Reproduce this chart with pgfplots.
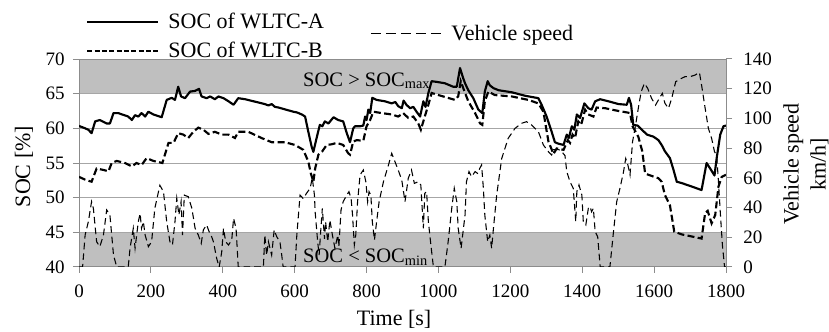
\documentclass[border=0pt]{standalone}
\usepackage{pgfplots}
\pgfplotsset{compat=1.18}
\usepackage{pgfplotstable}
\usepackage{fontspec}
\setmainfont{Liberation Serif}
\definecolor{bandgray}{HTML}{BFBFBF}
\definecolor{gridgray}{HTML}{A6A6A6}
\definecolor{axisgray}{HTML}{8C8C8C}

\pgfplotstableread{
t soc
0 60.35
17 60.0
26 59.8
35 59.3
45 61.0
58 61.2
77 60.7
86 60.7
96 62.2
109 62.2
137 61.7
147 61.2
156 61.9
165 61.7
174 62.2
184 61.7
193 62.4
207 62.0
230 61.6
244 64.1
258 64.4
267 64.1
276 66.0
284 64.6
295 64.35
309 65.3
323 65.4
334 65.7
341 64.6
355 64.35
365 64.6
378 64.2
388 64.6
402 64.35
416 63.9
430 63.4
443 64.35
462 64.2
517 63.5
527 63.3
536 63.5
545 63.1
555 63.0
596 62.4
606 62.3
620 62.0
629 61.7
638 59.5
647 57.4
652 56.6
661 58.6
670 60.5
677 60.3
684 61.0
694 60.7
708 61.6
721 61.2
735 61.0
745 59.3
754 58.0
763 60.0
768 60.3
782 60.3
791 60.4
796 61.7
800 61.2
805 62.7
810 62.2
816 64.4
828 64.1
851 63.9
870 63.6
880 63.8
888 63.2
898 62.9
903 64.0
911 63.4
921 62.9
930 63.1
939 62.4
949 61.7
958 63.9
964 63.1
972 65.1
981 66.8
995 66.7
1018 66.5
1041 66.0
1051 66.0
1060 68.7
1069 67.2
1074 66.5
1083 65.5
1097 64.35
1111 62.7
1122 62.2
1129 65.3
1137 66.8
1143 66.2
1153 65.8
1167 65.5
1204 65.2
1241 64.7
1278 64.35
1287 63.4
1301 61.7
1315 59.5
1324 58.0
1333 57.8
1348 57.6
1357 59.1
1363 58.6
1371 60.3
1378 59.8
1385 62.0
1394 61.5
1406 63.6
1417 62.9
1426 62.7
1436 63.9
1450 64.2
1473 63.9
1501 63.5
1524 63.4
1530 64.4
1536 63.4
1542 60.5
1554 60.4
1566 59.8
1580 59.1
1598 58.8
1612 58.3
1621 57.6
1630 56.7
1644 55.7
1654 54.0
1663 52.3
1677 52.1
1705 51.6
1732 51.1
1746 55.0
1756 54.2
1768 53.2
1774 55.7
1784 59.1
1793 60.3
1800 60.4
}\socA

\pgfplotstableread{
t soc
0 53.0
17 52.6
35 52.3
49 54.2
68 54.0
82 53.8
91 55.0
105 55.3
128 55.0
147 54.5
160 55.0
174 54.7
188 55.7
207 55.3
232 55.0
249 57.9
263 57.9
276 59.3
290 59.1
304 58.6
318 59.5
332 60.1
346 59.8
360 59.2
378 59.5
397 59.1
416 59.1
434 58.6
443 59.5
471 59.5
508 58.6
536 58.0
573 58.0
601 57.6
624 56.9
638 55.2
645 53.5
652 52.3
657 54.2
666 56.2
677 56.7
689 57.6
703 57.7
717 57.9
735 57.6
749 56.4
754 56.2
763 58.1
773 58.3
791 58.2
800 60.3
810 61.2
819 62.4
842 62.2
870 62.0
888 61.7
902 62.2
916 61.5
930 61.7
944 60.7
951 59.8
962 61.7
972 63.4
981 65.1
1000 64.8
1046 64.1
1055 64.6
1062 66.8
1069 65.8
1083 63.9
1102 62.2
1116 60.7
1122 60.5
1129 63.9
1139 65.3
1157 64.8
1204 64.6
1250 64.1
1278 63.6
1292 62.4
1306 58.1
1320 56.3
1329 57.1
1348 56.9
1360 58.3
1366 57.9
1373 59.1
1380 58.6
1389 61.0
1397 60.5
1408 62.7
1417 62.0
1431 61.7
1440 63.0
1464 62.9
1501 62.5
1524 62.3
1533 62.2
1540 60.3
1556 58.8
1567 56.7
1575 53.5
1584 53.3
1612 52.8
1621 52.3
1630 50.4
1644 48.9
1656 45.1
1677 44.7
1705 44.4
1732 44.1
1742 47.8
1749 48.1
1760 46.3
1770 47.5
1779 51.6
1788 53.0
1800 53.3
}\socB

\pgfplotstableread{
t v
0 0
10 0
17 21.5
26 30.5
35 44
40 39.5
49 17
58 13.7
68 21.5
77 38.4
86 35
96 8
105 0
137 0
142 12.6
151 26
156 12.6
165 30.5
170 36
174 26
179 30.5
184 21.5
193 13.7
202 17
211 39.5
225 55
235 50.7
244 30.5
253 17
260 14.8
267 30.5
272 46.2
278 35
284 44
288 21.5
293 48.4
304 47.3
314 39.5
323 26
332 21.5
340 15.9
346 25
355 28.3
362 23.8
369 20.4
374 17
383 5.8
390 0
397 10
402 26
408 17
416 14.8
425 18.2
430 32.7
437 26
443 0
513 0
517 21.5
522 8
527 17
536 8
543 25
550 20.4
559 17
564 8
568 0
601 0
606 21.5
615 48.4
624 46
633 49.6
643 53
649 60
655 48.4
657 37
664 17
668 8
673 26
677 39.5
683 19
686 30.5
692 17
698 31.6
705 21.5
712 12.6
720 21.5
723 13.7
729 38.4
735 44
745 48.4
751 50.7
757 46.2
761 35
766 14.8
770 21.5
775 44
782 62
791 65.3
798 57.4
803 44
807 50.7
812 48.4
816 30.5
822 18.2
828 30.5
835 44
847 57.4
861 68.7
870 76.5
879 70.9
888 65.3
898 58.5
907 44
916 59.7
925 65.3
933 56.3
944 57.4
951 55.2
958 26
962 49.6
967 50.7
972 30.5
979 14.8
986 0
1018 0
1027 17
1037 39.5
1044 53
1051 44
1055 26
1063 12.6
1074 35
1078 57.4
1085 64.2
1092 60.8
1102 64.2
1109 63
1115 66.4
1120 68.7
1125 53
1129 35
1137 17
1143 21.5
1148 12.6
1153 26
1162 48.4
1176 73
1194 86.6
1213 93.3
1231 96.7
1245 97.8
1259 95.6
1278 91.1
1292 82.1
1306 77.6
1315 75.4
1320 79
1335 79
1343 77.6
1352 75
1357 64.2
1366 57.4
1375 53
1382 30.5
1385 50.7
1391 55.2
1399 48.4
1403 30.5
1410 28.3
1417 39.5
1422 40.6
1426 37.2
1431 39.5
1436 23.8
1443 20.4
1450 0
1477 0
1487 23.8
1496 44
1505 53
1515 64.2
1521 73
1527 68.7
1533 62
1540 84.4
1547 93.3
1556 106.8
1564 118
1573 123.6
1582 120.3
1593 113.5
1604 109
1617 114.6
1623 116.9
1630 110.2
1640 106.8
1649 113.5
1660 124.7
1672 126.5
1686 128.1
1700 128.1
1714 129.2
1726 131
1732 122.5
1742 106.8
1751 93.3
1760 86.6
1768 77.6
1774 75.4
1779 57.4
1784 37.2
1790 14.8
1796 0
1800 0
}\speed

\newcommand{\tickfont}{\fontsize{14.25}{17}\selectfont}
\newcommand{\labfont}{\fontsize{16.5}{20.25}\selectfont}

\begin{document}
\begin{tikzpicture}
\begin{axis}[
  set layers,
  at={(0,0)}, anchor=south west,
  scale only axis, width=485.25pt, height=156pt,
  xmin=0, xmax=1800, ymin=40, ymax=70,
  xtick={0,200,...,1800}, ytick={40,45,...,70},
  xtick pos=bottom, ytick pos=left,
  tick align=outside, major tick length=4.5pt,
  every tick/.style={axisgray, line width=0.75pt},
  axis line style={axisgray, line width=0.75pt},
  ymajorgrids, grid style={gridgray, line width=0.75pt},
  /pgf/number format/assume math mode=true,
  /pgf/number format/1000 sep={},
  ticklabel style={font=\tickfont},
  xticklabel style={inner sep=0pt, yshift=-9pt},
  yticklabel style={inner sep=0pt, xshift=-6pt},
  xlabel={Time [s]},
  xlabel style={font=\labfont, at={(axis description cs:0.487,-0.279)}, anchor=base},
  ylabel={SOC [\%]},
  ylabel style={font=\labfont, at={(axis description cs:-0.085,0.483)}, anchor=center},
  legend style={at={(axis description cs:0.0108,1.236)}, anchor=north west, draw=none, fill=none,
    inner sep=0pt, font=\labfont, row sep=5pt, cells={anchor=west}},
  legend image code/.code={\draw[#1] (0pt,0pt) -- (53pt,0pt); \path (58pt,0pt);},
]
\begin{pgfonlayer}{axis background}
\fill[bandgray] (axis cs:0,65) rectangle (axis cs:1800,70);
\fill[bandgray] (axis cs:0,40) rectangle (axis cs:1800,45);
\end{pgfonlayer}
\node[anchor=base west, inner sep=0pt, font=\fontsize{15.4}{18}\selectfont] at (axis cs:623,66.1) {SOC > SOC\textsubscript{max}};
\node[anchor=base west, inner sep=0pt, font=\fontsize{15.4}{18}\selectfont] at (axis cs:623,40.58) {SOC < SOC\textsubscript{min}};
\addlegendimage{black, line width=1.6pt}
\addlegendentry{SOC of WLTC-A}
\addlegendimage{black, line width=1.3pt, dash pattern=on 3.75pt off 1.75pt}
\addlegendentry{SOC of WLTC-B}
\addplot[black, line width=1.6pt, line join=round, forget plot] table[x=t,y=soc] {\socA};
\addplot[black, line width=1.6pt, dash pattern=on 5.25pt off 2.5pt, forget plot] table[x=t,y=soc] {\socB};
\end{axis}
\begin{axis}[
  at={(0,0)}, anchor=south west,
  scale only axis, width=485.25pt, height=156pt,
  xmin=0, xmax=1800, ymin=0, ymax=140,
  ytick={0,20,...,140}, xtick=\empty,
  axis x line=none, axis y line*=right,
  tick align=outside, major tick length=4.5pt,
  every tick/.style={axisgray, line width=0.75pt},
  axis line style={axisgray, line width=0.75pt},
  /pgf/number format/assume math mode=true,
  ticklabel style={font=\tickfont},
  yticklabel style={inner sep=0pt, xshift=8.25pt},
  ylabel={Vehicle speed\\km/h]},
  ylabel style={font=\labfont, align=center, at={(axis description cs:1.1236,0.495)}, anchor=center},
  legend style={at={(axis description cs:0.4498,1.178)}, anchor=north west, draw=none, fill=none,
    inner sep=0pt, font=\labfont, cells={anchor=west}},
  legend image code/.code={\draw[#1] (0pt,0pt) -- (52.5pt,0pt); \path (58pt,0pt);},
]
\addlegendimage{black, line width=0.9pt, dash pattern=on 7.5pt off 3.75pt}
\addlegendentry{Vehicle speed}
\addplot[black, line width=0.8pt, dash pattern=on 5pt off 3pt, forget plot] table[x=t,y=v] {\speed};
\end{axis}
\pgfresetboundingbox
\path[use as bounding box] (-59.25pt,-48.75pt) rectangle (562.5pt,200.25pt);
\end{tikzpicture}
\end{document}
